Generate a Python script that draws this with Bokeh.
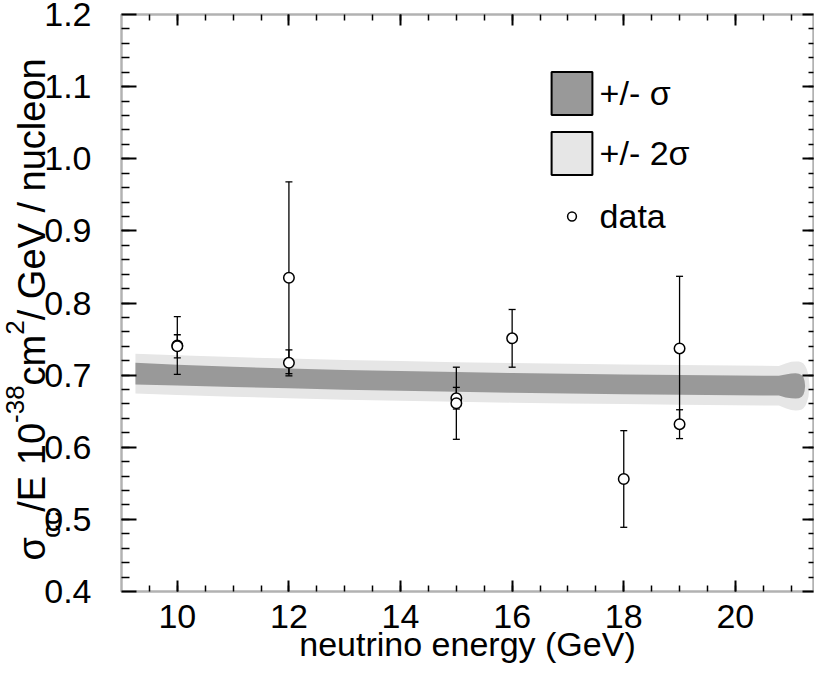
import numpy as np
from bokeh.plotting import figure
from bokeh.models import (ColumnDataSource, Whisker, TeeHead, Legend, LegendItem,
                          LinearAxis, FixedTicker, PrintfTickFormatter, Range1d,
                          CustomJSTickFormatter, BoxAnnotation)
from bokeh.core.properties import value
from bokeh.embed import file_html
from bokeh.resources import INLINE

# ---------------- data ----------------
data_energy = [10, 10, 12, 12, 15, 15, 16, 18, 19, 19]
data_xsec = [0.741, 0.740, 0.835, 0.717, 0.668, 0.661, 0.751, 0.556, 0.737, 0.632]
data_error = [0.040, 0.016, 0.133, 0.018, 0.015, 0.050, 0.040, 0.067, 0.100, 0.020]

band_energy = [9.25, 10, 11, 12, 13, 14, 15, 16, 17, 18, 19, 20, 20.78, 20.9, 21.0,
               21.08, 21.14, 21.19, 21.22, 21.24, 21.25, 21.28, 21.31, 21.33]
band_center = [0.7020, 0.7000, 0.6975, 0.6955, 0.6935, 0.6920, 0.6905, 0.6893, 0.6882,
               0.6873, 0.6865, 0.6858, 0.6853, 0.6850, 0.6850, 0.6850, 0.6850, 0.6850,
               0.6850, 0.6850, 0.6850, 0.6850, 0.6850, 0.6850]
band_sigma1 = [0.0150, 0.0145, 0.0140, 0.0138, 0.0137, 0.0137, 0.0137, 0.0137, 0.0137,
               0.0137, 0.0137, 0.0137, 0.0137, 0.0160, 0.0172, 0.0175, 0.0170, 0.0150,
               0.0120, 0.0070, 0.0, 0.0, 0.0, 0.0]
band_sigma2 = [0.0275, 0.0275, 0.0275, 0.0275, 0.0275, 0.0275, 0.0275, 0.0275, 0.0275,
               0.0275, 0.0275, 0.0275, 0.0275, 0.0310, 0.0335, 0.0340, 0.0338, 0.0325,
               0.0310, 0.0290, 0.0280, 0.0230, 0.0150, 0.0]

x_major_ticks = [10, 12, 14, 16, 18, 20]
y_major_ticks = [0.4, 0.5, 0.6, 0.7, 0.8, 0.9, 1.0, 1.1, 1.2]
x_title = "neutrino energy (GeV)"
y_title_parts = [("σ", "n"), ("cc", "sub"), ("/E 10", "n"), ("-38", "sup"), ("cm", "n"),
                 ("2", "sup"), ("/ GeV / nucleon", "n")]
legend_labels = ["+/- σ", "+/- 2σ", "data"]

FONT = "Liberation Sans"
DARK = "#999999"
LIGHT = "#e6e6e6"

# axes box (data) and its place on the canvas (pixels)
X0, X1, Y0, Y1 = 9.0, 21.4, 0.4, 1.2
W_PX, H_PX = 814, 680
PX_L, PX_R, PX_T, PX_B = 121, 813, 14, 591
sx = (PX_R - PX_L) / (X1 - X0)
sy = (PX_B - PX_T) / (Y1 - Y0)

def px_x(px):      # canvas pixel column -> data x
    return X0 + (px - PX_L) / sx

def px_y(py):      # canvas pixel row -> data y
    return Y0 + (PX_B - py) / sy

p = figure(width=W_PX, height=H_PX,
           x_range=Range1d(px_x(0), px_x(W_PX)), y_range=Range1d(px_y(H_PX), px_y(0)),
           output_backend="svg", toolbar_location=None, min_border=0)
p.xgrid.visible = False
p.ygrid.visible = False
p.outline_line_color = None
p.background_fill_color = "white"

# ---------- bands ----------
be = np.array(band_energy)
bc = np.array(band_center)
s1 = np.array(band_sigma1)
s2 = np.array(band_sigma2)
p.varea(x=be, y1=bc - s2, y2=bc + s2, fill_color=LIGHT)
p.varea(x=be, y1=bc - s1, y2=bc + s1, fill_color=DARK)

# ---------- data ----------
e = np.array(data_energy, dtype=float)
v = np.array(data_xsec)
er = np.array(data_error)
src = ColumnDataSource(dict(e=e, v=v, lo=v - er, up=v + er))
wh = Whisker(base="e", lower="lo", upper="up", source=src, line_color="black", line_width=1.3,
             upper_head=TeeHead(size=7, line_color="black", line_width=1.3),
             lower_head=TeeHead(size=7, line_color="black", line_width=1.3),
             level="annotation")
p.add_layout(wh)
pts = p.scatter("e", "v", source=src, size=10.5, fill_color="white", line_color="black",
                line_width=1.5, level="overlay")

# ---------- frame ----------
p.add_layout(BoxAnnotation(left=X0, right=X1, bottom=Y0, top=Y1, fill_color=None,
                           line_color="black", line_width=2.5, level="guide"))

# ---------- axes ----------
x_minor = list(np.arange(9.5, X1, 0.5))
y_minor = list(np.arange(0.42, 1.2, 0.02))
xt = FixedTicker(ticks=x_major_ticks, minor_ticks=x_minor)
yt = FixedTicker(ticks=y_major_ticks, minor_ticks=y_minor)

def style_axis(ax, tick_in, minor_in):
    ax.axis_line_color = None
    ax.major_tick_in = tick_in
    ax.major_tick_out = 0
    ax.minor_tick_in = minor_in
    ax.minor_tick_out = 0
    ax.major_tick_line_width = 2
    ax.minor_tick_line_width = 1.5
    ax.major_label_text_font = FONT
    ax.major_label_text_color = "black"

xax = p.xaxis[0]
xax.ticker = xt
xax.fixed_location = Y0
xax.formatter = PrintfTickFormatter(format="%d")
style_axis(xax, 11, 6)
xax.major_label_text_font_size = "34px"
xax.major_label_standoff = 13

yax = p.yaxis[0]
yax.ticker = yt
yax.fixed_location = X0
yax.formatter = PrintfTickFormatter(format="%.1f")
style_axis(yax, 15, 8)
yax.major_label_text_font_size = "34px"
yax.major_label_standoff = 30

blank = CustomJSTickFormatter(code="return ''")
top = LinearAxis(ticker=xt, formatter=blank, fixed_location=Y1)
style_axis(top, 11, 6)
top.major_label_standoff = 0
p.add_layout(top, "above")

right = LinearAxis(ticker=yt, formatter=blank, fixed_location=X1)
style_axis(right, 11, 5)
right.major_label_standoff = 0
p.add_layout(right, "right")

# ---------- axis titles ----------
p.text(x=[(X0 + X1) / 2], y=[px_y(643)], text=[x_title], text_font=value(FONT),
       text_font_size=value("34px"), text_color="black", text_align="center",
       text_baseline="middle")

WID = {' ': 0.278, '/': 0.278, '-': 0.333, '0': 0.556, '1': 0.556, '2': 0.556, '3': 0.556,
       '8': 0.556, 'E': 0.667, 'G': 0.778, 'V': 0.667, 'c': 0.5, 'm': 0.833, 'n': 0.556,
       'u': 0.556, 'l': 0.222, 'e': 0.556, 'o': 0.556, 'σ': 0.6}

def tw(s, size):
    return sum(WID.get(ch, 0.556) for ch in s) * size

F, S = 38, 26
style = {"n": (F, 0), "sub": (S, 13), "sup": (S, -23)}
base_px = 50        # baseline column of the rotated title
start_py = 560      # where the title starts (bottom end)
ANCHOR_FIX = 0.48   # rotated-text anchor correction (in em)
run = 0.0
for txt, role in y_title_parts:
    size, shift = style[role]
    p.text(x=[px_x(base_px + shift - ANCHOR_FIX * size)], y=[px_y(start_py - run)],
           text=[txt], angle=np.pi / 2,
           text_font=value(FONT), text_font_size=value(f"{size}px"), text_color="black",
           text_align="left", text_baseline="alphabetic")
    run += tw(txt, size)

# ---------- legend ----------
nan_src = ColumnDataSource(dict(l=[np.nan], r=[np.nan], b=[np.nan], t=[np.nan]))
r1 = p.quad(left="l", right="r", bottom="b", top="t", source=nan_src, fill_color=DARK,
            line_color="black", line_width=2)
r2 = p.quad(left="l", right="r", bottom="b", top="t", source=nan_src, fill_color=LIGHT,
            line_color="black", line_width=2)

common = dict(padding=0, margin=0, border_line_color=None, background_fill_alpha=0,
              label_text_font=FONT, label_text_font_size="34px", label_text_color="black",
              label_standoff=3, glyph_width=51)
leg1 = Legend(items=[LegendItem(label=legend_labels[0], renderers=[r1]),
                     LegendItem(label=legend_labels[1], renderers=[r2])],
              location=(545.6, H_PX - 180.4), glyph_height=54, spacing=6, **common)
leg2 = Legend(items=[LegendItem(label=legend_labels[2], renderers=[pts])],
              location=(545.6, H_PX - 235.5), glyph_height=22, **common)
p.add_layout(leg1)
p.add_layout(leg2)

open("out.html", "w").write(file_html(p, INLINE))
